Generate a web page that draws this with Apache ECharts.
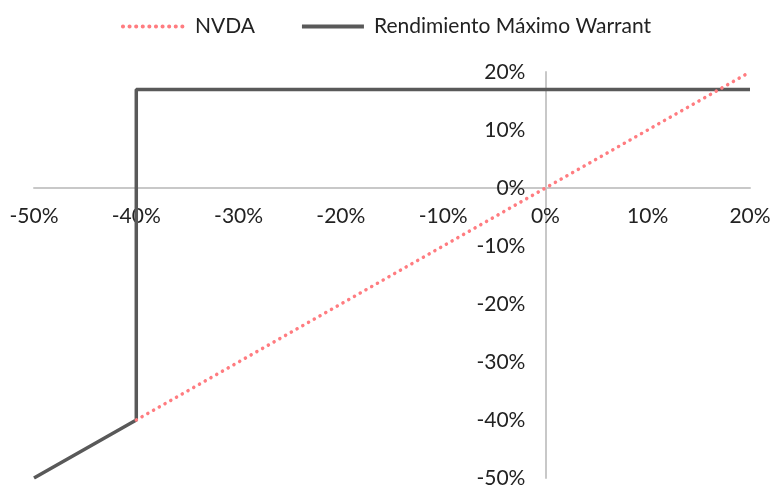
<!DOCTYPE html>
<html>
<head>
<meta charset="utf-8">
<script src="https://cdn.jsdelivr.net/npm/echarts@6/dist/echarts.min.js"></script>
<style>
  html, body { margin: 0; padding: 0; background: #fff; }
  #chart { width: 772px; height: 487px; }
</style>
</head>
<body>
<div id="chart"></div>
<script>
// datos del gráfico (en %)
const nvdaX = [-40, 20];
const nvdaY = [-40, 20];
const warrantX = [-50, -40, -40, 20];
const warrantY = [-50, -40, 17, 17];
const seriesNames = ['NVDA', 'Rendimiento Máximo Warrant'];
const axisMin = -50, axisMax = 20, axisStep = 10;

const font = 'Lato, "Open Sans", sans-serif';
const W = 772, H = 487;
const grid = { left: 34, right: 22, top: 72, bottom: 9 };
const plotW = W - grid.left - grid.right;
const plotH = H - grid.top - grid.bottom;
// los ejes se cruzan en 0: desplazamos cada eje hasta el cero del otro
const xOffset = -plotH * (0 - axisMin) / (axisMax - axisMin);
const yOffset = -plotW * (0 - axisMin) / (axisMax - axisMin);

const chart = echarts.init(document.getElementById('chart'));

chart.setOption({
  animation: false,
  legend: {
    data: seriesNames,
    top: 11,
    left: 'center',
    itemWidth: 62,
    itemHeight: 12,
    itemGap: 45,
    itemStyle: { opacity: 0 },
    lineStyle: { width: 4 },
    textStyle: { fontFamily: font, fontSize: 21, color: '#222', padding: [0, 0, 0, 5] }
  },
  grid: Object.assign({ containLabel: false, outerBoundsMode: 'none' }, grid),
  xAxis: {
    type: 'value',
    min: axisMin,
    max: axisMax,
    interval: axisStep,
    position: 'bottom',
    offset: xOffset,
    axisLine: { onZero: false, lineStyle: { color: '#c8c8c8', width: 2 } },
    axisTick: { show: false },
    splitLine: { show: false },
    axisLabel: {
      formatter: '{value}%',
      margin: 18,
      fontFamily: font,
      fontSize: 21,
      color: '#222'
    }
  },
  yAxis: {
    type: 'value',
    min: axisMin,
    max: axisMax,
    interval: axisStep,
    position: 'left',
    offset: yOffset,
    axisLine: { show: true, onZero: false, lineStyle: { color: '#c8c8c8', width: 2 } },
    axisTick: { show: false },
    splitLine: { show: false },
    axisLabel: {
      formatter: '{value}%',
      margin: 20,
      fontFamily: font,
      fontSize: 21,
      color: '#222'
    }
  },
  series: [
    {
      name: seriesNames[0],
      type: 'line',
      symbol: 'none',
      z: 3,
      data: nvdaX.map((x, i) => [x, nvdaY[i]]),
      itemStyle: { color: '#ff7c80' },
      lineStyle: { color: '#ff7c80', width: 3.5, type: [0.1, 6.5], cap: 'round' }
    },
    {
      name: seriesNames[1],
      type: 'line',
      symbol: 'none',
      z: 2,
      data: warrantX.map((x, i) => [x, warrantY[i]]),
      itemStyle: { color: '#595959' },
      lineStyle: { color: '#595959', width: 3.5 }
    }
  ]
});
</script>
</body>
</html>
